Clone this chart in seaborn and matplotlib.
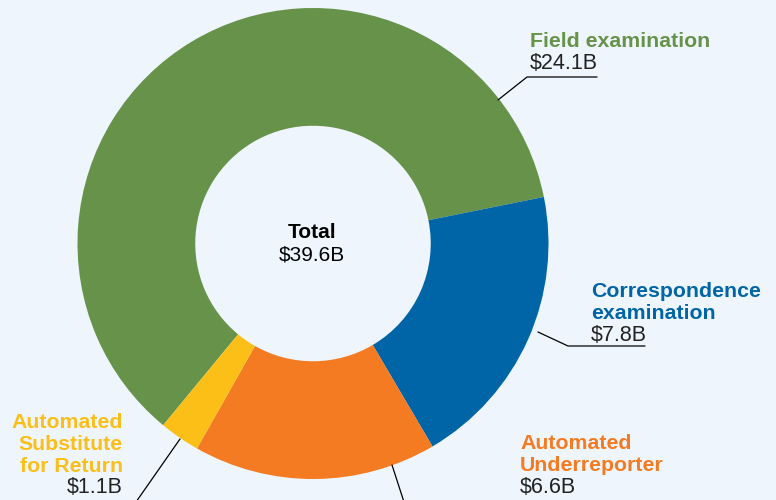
import numpy as np
import pandas as pd
import matplotlib
matplotlib.use("Agg")
import matplotlib.pyplot as plt
import seaborn as sns

# Datos del gráfico
categorias = ["Field examination", "Correspondence examination",
              "Automated Underreporter", "Automated Substitute for Return"]
valores = [24.1, 7.8, 6.6, 1.1]
colores = ["#67924A", "#0065A6", "#F47B22", "#FCBF17"]
total = 39.6

df = pd.DataFrame({"categoria": categorias, "valor": valores, "color": colores})

sns.set_style("white")
plt.rcParams["font.family"] = ["Liberation Sans", "DejaVu Sans"]

fondo = "#EEF5FC"
W, H = 776, 500
fig = plt.figure(figsize=(W / 100, H / 100), dpi=100, facecolor=fondo)
ax = fig.add_axes([0, 0, 1, 1])
ax.set_facecolor(fondo)
ax.axis("off")

# Anillo: el sector verde termina a 11.4 grados (sentido horario)
frac_verde = df["valor"].iloc[0] / df["valor"].sum()
inicio = 11.4 + 360 * frac_verde
radio = 235.5
ax.pie(df["valor"], colors=df["color"], startangle=inicio, counterclock=False,
       center=(313, H - 243.5), radius=radio,
       wedgeprops=dict(width=radio * 0.5, linewidth=0))
ax.set_xlim(0, W)
ax.set_ylim(0, H)
ax.set_aspect("equal")

# Texto central
ax.text(312, H - 238, "Total", ha="center", va="baseline", fontsize=15,
        fontweight="bold", color="black")
ax.text(312, H - 260, f"${total}B", ha="center", va="baseline", fontsize=15,
        color="black")


def etiqueta(x, ys, lineas, color, valor, ha="left"):
    for y, t in zip(ys[:-1], lineas):
        ax.text(x, H - y, t, ha=ha, va="baseline", fontsize=15.3,
                fontweight="bold", color=color)
    ax.text(x, H - ys[-1], f"${valor}B", ha=ha, va="baseline", fontsize=15.5,
            color="#222222")


etiqueta(530, [47, 69], ["Field examination"], colores[0], valores[0])
etiqueta(591, [297, 319, 341], ["Correspondence", "examination"], colores[1], valores[1])
etiqueta(520, [449, 471, 493], ["Automated", "Underreporter"], colores[2], valores[2])
etiqueta(123, [428, 450, 472, 493], ["Automated", "Substitute", "for Return"],
         colores[3], valores[3], ha="right")

# Líneas guía
guias = [
    [(498, 100), (527, 77), (597, 77)],
    [(538, 332), (568, 346), (645, 346)],
    [(392, 465), (404, 502)],
    [(180, 439), (136, 502)],
]
for g in guias:
    xs, ys = zip(*g)
    ax.plot(xs, [H - y for y in ys], color="black", linewidth=0.9)

fig.savefig("out.png", dpi=100, facecolor=fondo)
